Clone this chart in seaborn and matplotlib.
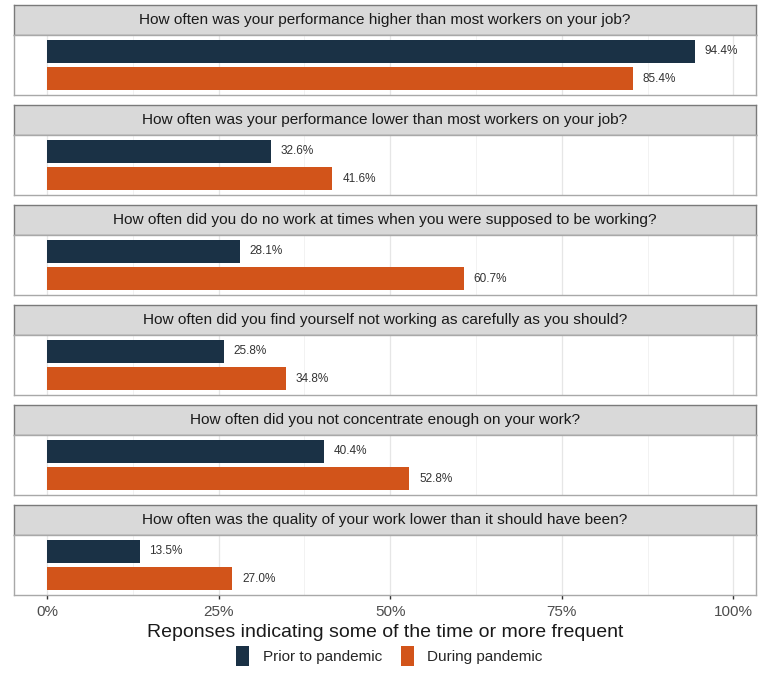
import matplotlib
matplotlib.use("Agg")
import matplotlib.pyplot as plt
from matplotlib.patches import Patch
import seaborn as sns
import pandas as pd

questions = [
    "How often was your performance higher than most workers on your job?",
    "How often was your performance lower than most workers on your job?",
    "How often did you do no work at times when you were supposed to be working?",
    "How often did you find yourself not working as carefully as you should?",
    "How often did you not concentrate enough on your work?",
    "How often was the quality of your work lower than it should have been?",
]
prior = [94.4, 32.6, 28.1, 25.8, 40.4, 13.5]
during = [85.4, 41.6, 60.7, 34.8, 52.8, 27.0]
periods = ["Prior to pandemic", "During pandemic"]
x_ticks = [0, 25, 50, 75, 100]
x_tick_labels = ["0%", "25%", "50%", "75%", "100%"]
x_title = "Reponses indicating some of the time or more frequent"

colors = {"Prior to pandemic": "#1a3145", "During pandemic": "#d2541a"}

rows = []
for q, p, d in zip(questions, prior, during):
    rows.append({"question": q, "period": periods[0], "value": p})
    rows.append({"question": q, "period": periods[1], "value": d})
df = pd.DataFrame(rows)

sns.set_theme(style="white")
plt.rcParams["font.family"] = ["Liberation Sans", "DejaVu Sans"]

W, H = 764, 690
fig = plt.figure(figsize=(W / 100, H / 100), dpi=100)

left_px, right_px = 14, 756
strip_h, panel_h, step = 30, 60, 100
top0 = 5

def fx(px):
    return px / W

def fy(px):
    return 1 - px / H

for i, q in enumerate(questions):
    strip_top = top0 + step * i
    strip_bot = strip_top + strip_h
    panel_bot = strip_bot + panel_h

    # facet strip with the question text
    sax = fig.add_axes([fx(left_px), fy(strip_bot), fx(right_px - left_px), strip_h / H])
    sax.set_facecolor("#d9d9d9")
    sax.set_xticks([])
    sax.set_yticks([])
    for sp in sax.spines.values():
        sp.set_color("#7a7a7a")
        sp.set_linewidth(1.0)
    sax.text(0.5, 0.5, q, ha="center", va="center", fontsize=11.1, color="#1a1a1a",
             transform=sax.transAxes)

    # bar panel
    ax = fig.add_axes([fx(left_px), fy(panel_bot), fx(right_px - left_px), panel_h / H])
    sub = df[df["question"] == q]
    sns.barplot(data=sub, x="value", y="question", hue="period", hue_order=periods,
                palette=colors, orient="h", width=1.08, gap=0.18, ax=ax, legend=False,
                saturation=1, edgecolor="none")
    ax.set_xlim(-4.8, 103.3)
    ax.set_ylim(0.6, -0.6)
    ax.set_ylabel("")
    ax.set_xlabel("")
    ax.set_yticks([])
    ax.set_xticks(x_ticks)
    ax.set_xticks([12.5, 37.5, 62.5, 87.5], minor=True)
    ax.grid(axis="x", which="major", color="#e6e6e6", lw=0.9)
    ax.grid(axis="x", which="minor", color="#f0f0f0", lw=0.6)
    ax.set_axisbelow(True)
    for sp in ax.spines.values():
        sp.set_color("#a8a8a8")
        sp.set_linewidth(1.0)
    for cont in ax.containers:
        ax.bar_label(cont, labels=[f"{v:.1f}%" for v in cont.datavalues],
                     padding=7, fontsize=8.5, color="#333333")
    if i < len(questions) - 1:
        ax.tick_params(axis="x", which="both", bottom=False, labelbottom=False)
    else:
        ax.set_xticklabels(x_tick_labels)
        ax.tick_params(axis="x", which="major", bottom=True, length=3, width=1,
                       color="#333333", labelsize=11, labelcolor="#4d4d4d", pad=4)
        ax.tick_params(axis="x", which="minor", bottom=False)
        ax.set_xlabel(x_title, fontsize=14, color="#1a1a1a", labelpad=4)

handles = [Patch(facecolor=colors[p], edgecolor="none", label=p) for p in periods]
fig.legend(handles=handles, loc="center", bbox_to_anchor=(0.51, fy(656)), ncol=2,
           frameon=False, fontsize=11, handlelength=0.85, handleheight=1.6,
           columnspacing=1.2, handletextpad=0.9)

fig.savefig("out.png", dpi=100, facecolor="white")
